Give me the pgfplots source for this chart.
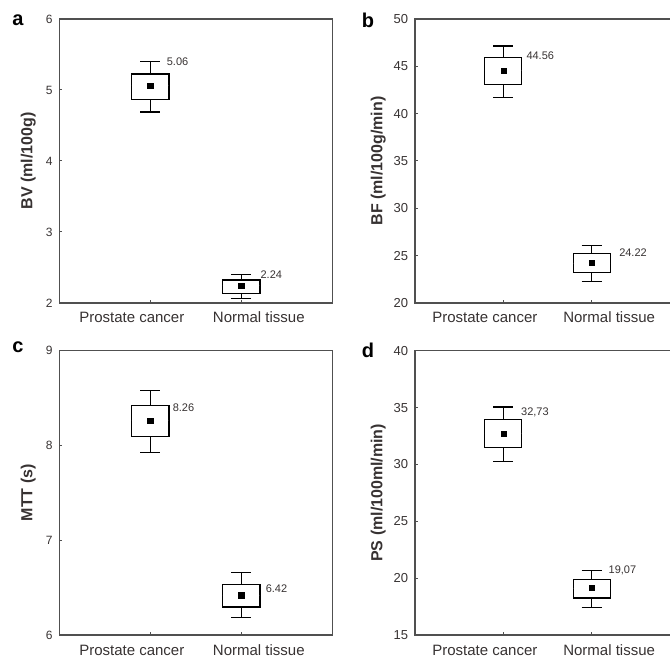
\documentclass[border=0pt]{standalone}
\usepackage{fontspec}
\setmainfont{Liberation Sans}
\usepackage{pgfplots}
\pgfplotsset{compat=1.18}
\usepgfplotslibrary{statistics}
\definecolor{axgray}{RGB}{80,80,80}
\definecolor{txtgray}{RGB}{55,50,50}
\tikzset{vlab/.style={anchor=west, font=\fontsize{11}{13}\selectfont, text=txtgray, inner sep=0pt}}
\pgfplotsset{
  panel/.style={
    scale only axis,
    anchor=south west,
    xmin=-1, xmax=2,
    xtick={0,1},
    xticklabels={\makebox[0pt]{Prostate cancer\hspace*{37pt}}, \makebox[0pt]{\hspace*{35pt}Normal tissue}},
    xtick pos=left, ytick pos=left,
    tick align=inside,
    major tick length=3pt,
    tick style={axgray, line width=1pt},
    axis line style={axgray, line width=1.3pt},
    boxplot/draw direction=y,
    /pgf/number format/assume math mode=true,
    xticklabel style={font=\fontsize{15}{17}\selectfont, text=txtgray, inner sep=0pt, anchor=base, yshift=-20pt},
    yticklabel style={text=txtgray, inner sep=0pt, anchor=east, xshift=-6.6pt},
    every axis y label/.style={anchor=center, rotate=90, font=\bfseries\fontsize{16}{18}\selectfont, text=txtgray},
    clip=false,
  },
  bx/.style={draw=black, fill=white, line width=1.1pt, solid, mark=none},
  mn/.style={only marks, mark=square*, mark size=2.6pt, black},
}
\begin{document}
\begin{tikzpicture}[x=1pt,y=1pt]
\useasboundingbox (0,0) rectangle (670,657);
\clip (0,0) rectangle (670,657);
% panel letters
\node[font=\bfseries\fontsize{20}{22}\selectfont, text=black] at (18,637) {a};
\node[font=\bfseries\fontsize{20}{22}\selectfont, text=black] at (368,637) {b};
\node[font=\bfseries\fontsize{20}{22}\selectfont, text=black] at (18,310) {c};
\node[font=\bfseries\fontsize{20}{22}\selectfont, text=black] at (368,306.5) {d};
% ---------------- a
\begin{axis}[panel, at={(59.3pt,354pt)}, width=273pt, height=284pt,
  ymin=2, ymax=6, ytick={2,3,4,5,6},
  yticklabel style={font=\fontsize{12}{14}\selectfont},
  ylabel={BV (ml/100g)}, every axis y label/.append style={at={(axis description cs:-0.1136,0.5)}}]
\addplot[bx, boxplot prepared={draw position=0, lower whisker=4.69, lower quartile=4.87, median=5.06, upper quartile=5.225, upper whisker=5.40, box extend=0.41, whisker extend=0.22, every median/.style={draw=none}}] coordinates {};
\addplot[bx, boxplot prepared={draw position=1, lower whisker=2.06, lower quartile=2.137, median=2.24, upper quartile=2.324, upper whisker=2.40, box extend=0.41, whisker extend=0.22, every median/.style={draw=none}}] coordinates {};
\addplot[mn] coordinates {(0,5.06) (1,2.24)};
\node[vlab] at (axis cs:0.18,5.40) {5.06};
\node[vlab] at (axis cs:1.21,2.40) {2.24};
\end{axis}
% ---------------- b
\begin{axis}[panel, at={(415pt,354pt)}, width=265pt, height=284pt,
  ymin=20, ymax=50, ytick={20,25,30,35,40,45,50},
  yticklabel style={font=\fontsize{13}{15}\selectfont},
  ylabel={BF (ml/100g/min)}, every axis y label/.append style={at={(axis description cs:-0.1385,0.5)}}]
\addplot[bx, boxplot prepared={draw position=0, lower whisker=41.73, lower quartile=43.11, median=44.56, upper quartile=45.92, upper whisker=47.15, box extend=0.42, whisker extend=0.225, every median/.style={draw=none}}] coordinates {};
\addplot[bx, boxplot prepared={draw position=1, lower whisker=22.28, lower quartile=23.23, median=24.22, upper quartile=25.24, upper whisker=26.08, box extend=0.42, whisker extend=0.225, every median/.style={draw=none}}] coordinates {};
\addplot[mn] coordinates {(0,44.56) (1,24.22)};
\node[vlab] at (axis cs:0.26,46.13) {44.56};
\node[vlab] at (axis cs:1.31,25.32) {24.22};
\end{axis}
% ---------------- c
\begin{axis}[panel, at={(59.3pt,22pt)}, width=273pt, height=284.3pt,
  ymin=6, ymax=9, ytick={6,7,8,9},
  yticklabel style={font=\fontsize{12}{14}\selectfont},
  ylabel={MTT (s)}, every axis y label/.append style={at={(axis description cs:-0.1136,0.5)}}]
\addplot[bx, boxplot prepared={draw position=0, lower whisker=7.93, lower quartile=8.09, median=8.26, upper quartile=8.42, upper whisker=8.58, box extend=0.41, whisker extend=0.22, every median/.style={draw=none}}] coordinates {};
\addplot[bx, boxplot prepared={draw position=1, lower whisker=6.186, lower quartile=6.295, median=6.42, upper quartile=6.534, upper whisker=6.657, box extend=0.41, whisker extend=0.22, every median/.style={draw=none}}] coordinates {};
\addplot[mn] coordinates {(0,8.26) (1,6.42)};
\node[vlab] at (axis cs:0.245,8.40) {8.26};
\node[vlab] at (axis cs:1.267,6.49) {6.42};
\end{axis}
% ---------------- d
\begin{axis}[panel, at={(415pt,22pt)}, width=265pt, height=284.3pt,
  ymin=15, ymax=40, ytick={15,20,25,30,35,40},
  yticklabel style={font=\fontsize{13}{15}\selectfont},
  ylabel={PS (ml/100ml/min)}, every axis y label/.append style={at={(axis description cs:-0.1385,0.5)}}]
\addplot[bx, boxplot prepared={draw position=0, lower whisker=30.27, lower quartile=31.47, median=32.73, upper quartile=33.93, upper whisker=35.05, box extend=0.42, whisker extend=0.225, every median/.style={draw=none}}] coordinates {};
\addplot[bx, boxplot prepared={draw position=1, lower whisker=17.43, lower quartile=18.25, median=19.07, upper quartile=19.89, upper whisker=20.71, box extend=0.42, whisker extend=0.225, every median/.style={draw=none}}] coordinates {};
\addplot[mn] coordinates {(0,32.73) (1,19.16)};
\node[vlab] at (axis cs:0.20,34.55) {32,73};
\node[vlab] at (axis cs:1.19,20.71) {19,07};
\end{axis}
\end{tikzpicture}
\end{document}
